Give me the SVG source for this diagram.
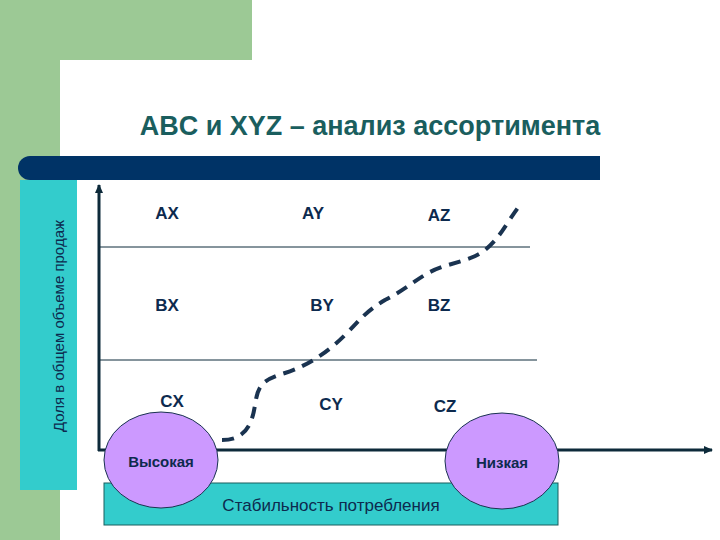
<svg xmlns="http://www.w3.org/2000/svg" width="720" height="540" viewBox="0 0 720 540">
<style>
.lbl{font-family:"Liberation Sans",Arial,sans-serif;font-size:17px;fill:#0d2a4e;text-anchor:middle}
.b{font-weight:bold;font-size:15px}
</style>
<defs><marker id="ar" markerWidth="10" markerHeight="10" refX="8" refY="5" orient="auto" markerUnits="userSpaceOnUse"><path d="M0,1 L9,5 L0,9 Z" fill="#0d2a3a"/></marker></defs>
<rect width="720" height="540" fill="#fff"/>
<rect x="0" y="0" width="252" height="60" fill="#9cc995"/>
<rect x="0" y="0" width="60" height="540" fill="#9cc995"/>
<path d="M60,540 V90 Q60,60 90,60 H252 V0 H720 V540 Z" fill="#fff"/>
<text x="370" y="135" font-family="Liberation Sans,Arial,sans-serif" font-size="27" font-weight="bold" fill="#1a5e5e" text-anchor="middle">ABC и XYZ – анализ ассортимента</text>
<path d="M30,156 H600 V180 H30 A12,12 0 0 1 30,156 Z" fill="#003366"/>
<g id="yaxislabel"><rect x="20" y="180" width="57" height="310" fill="#33cccc"/>
<text transform="translate(64,326) rotate(-90)" font-family="Liberation Sans,Arial,sans-serif" font-size="15" fill="#0d2a4e" text-anchor="middle">Доля в общем объеме продаж</text></g>
<g id="connectors" stroke="#0d2a3a" fill="none">
<line x1="99" y1="451" x2="99" y2="185" stroke-width="3" marker-end="url(#ar)"/>
<line x1="98" y1="450" x2="712" y2="450" stroke-width="3" marker-end="url(#ar)"/>
<line x1="100" y1="247" x2="530" y2="247" stroke-width="1"/>
<line x1="100" y1="360" x2="537" y2="360" stroke-width="1"/>
<path d="M222,440 C245,440 252,425 255,405 C258,385 262,380 285,373 C310,365 330,350 345,335 C360,320 365,312 385,300 C405,290 415,280 430,272 C450,262 470,262 485,250 C500,238 505,225 520,205" stroke="#1a3350" stroke-width="4" stroke-dasharray="12,8"/>
</g>
<g class="lbl b">
<text x="167" y="219" class="lbl">AX</text><text x="313" y="219" class="lbl">AY</text><text x="439" y="221" class="lbl">AZ</text>
<text x="167" y="311" class="lbl">BX</text><text x="322" y="311" class="lbl">BY</text><text x="439" y="311" class="lbl">BZ</text>
<text x="172" y="407" class="lbl">CX</text><text x="331" y="410" class="lbl">CY</text><text x="445" y="412" class="lbl">CZ</text>
</g>
<g id="bar"><rect x="104" y="483" width="454" height="42" fill="#33cccc" stroke="#1a5e5e" stroke-width="1"/>
<text x="331" y="511" class="lbl" style="font-size:17px">Стабильность потребления</text></g>
<g id="high"><ellipse cx="161" cy="460" rx="57" ry="48" fill="#cc99ff" stroke="#1a3350"/><text x="161" y="467" class="lbl b" style="font-weight:bold">Высокая</text></g>
<g id="low"><ellipse cx="502" cy="461" rx="57" ry="48" fill="#cc99ff" stroke="#1a3350"/><text x="502" y="468" class="lbl b" style="font-weight:bold">Низкая</text></g>
</svg>
